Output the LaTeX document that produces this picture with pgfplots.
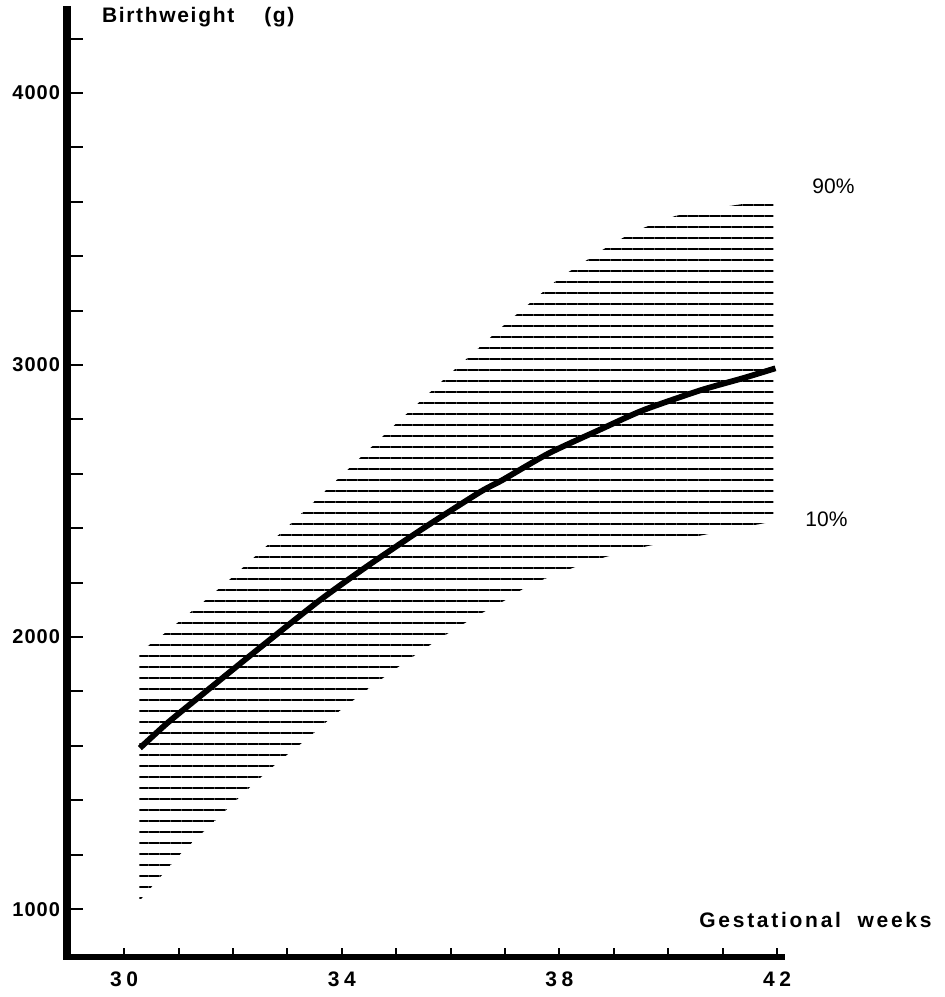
\documentclass[border=0pt]{standalone}
\usepackage{pgfplots}
\pgfplotsset{compat=1.18}
\usepackage{pgfplotstable}
\usepgfplotslibrary{fillbetween}
\usetikzlibrary{patterns.meta}
\usepackage{fontspec}
\setmainfont{Liberation Sans}
\newfontfamily\labfont[LetterSpace=13]{Liberation Sans}
\newfontfamily\bwfont[LetterSpace=8]{Liberation Sans}
\newfontfamily\ytfont[LetterSpace=5]{Liberation Sans}
\newfontfamily\xtfont[LetterSpace=22]{Liberation Sans}

\pgfplotstableread{
wk w
30.28 1945
30.66 2000
31.18 2085
31.43 2125
32.00 2222
33.00 2405
34.00 2595
35.00 2785
36.00 2970
37.00 3150
38.00 3320
38.79 3423
39.12 3463
39.54 3504
40.13 3548
40.80 3575
41.51 3596
41.93 3604
}\tabupper

\pgfplotstableread{
wk w
30.28 1030
30.55 1092
31.08 1213
31.51 1294
31.93 1375
32.39 1463
32.85 1544
33.38 1629
33.84 1710
34.38 1794
34.93 1875
35.50 1955
36.00 2020
36.50 2080
37.00 2135
37.26 2169
37.68 2210
38.24 2254
38.84 2294
39.63 2335
40.74 2379
41.93 2425
}\tablower

\pgfplotstableread{
wk w
30.29 1592
30.80 1685
31.38 1780
32.44 1952
33.60 2136
34.50 2265
35.50 2400
36.54 2533
36.95 2577
37.80 2675
38.75 2763
39.54 2834
40.59 2907
41.38 2952
41.97 2988
}\tabmedian

\begin{document}
\begin{tikzpicture}
\begin{axis}[
  scale only axis,
  width=357.5pt, height=473.5pt,
  xmin=28.95, xmax=42.09, ymin=824, ymax=4305,
  axis lines=left,
  axis line style={-, line cap=rect},
  x axis line style={line width=3pt},
  y axis line style={line width=3.5pt},
  xtick={30,34,38,42},
  xticklabels={30,34,38,42},
  minor xtick={31,32,33,35,36,37,39,40,41},
  ytick={1000,2000,3000,4000},
  yticklabels={1000,2000,3000,4000},
  minor ytick={1200,1400,1600,1800,2200,2400,2600,2800,3200,3400,3600,3800,4200},
  tick align=inside,
  major tick length=8pt, minor tick length=8pt,
  xtick style={line width=1pt, black, /pgfplots/major tick length=4.5pt, /pgfplots/minor tick length=4.5pt},
  ytick style={line width=1pt, black},
  yticklabel style={font=\fontsize{10}{12}\selectfont\ytfont\bfseries, xshift=0pt},
  xticklabel style={font=\fontsize{10.5}{12}\selectfont\xtfont\bfseries, yshift=-4pt},
]
\addplot[draw=none, name path=U] table[x=wk, y=w] {\tabupper};
\addplot[draw=none, name path=L] table[x=wk, y=w] {\tablower};
\addplot[draw=none, pattern={Lines[angle=0, distance=5.5pt, line width=1.3pt]}, pattern color=black] fill between[of=U and L];
\addplot[black, line width=2.9pt, line cap=butt, line join=round, smooth, tension=0.4] table[x=wk, y=w] {\tabmedian};
\end{axis}
\node[anchor=base west, inner sep=0] at (17.3pt,467pt) {\fontsize{10.5}{12}\selectfont\bwfont\bfseries Birthweight\hspace{15pt}(g)};
\node[anchor=base west, inner sep=0] at (316pt,14.5pt) {\fontsize{10.5}{12}\selectfont\labfont\bfseries Gestational\hspace{4pt} weeks};
\node[anchor=base west, inner sep=0] at (372.5pt,381.5pt) {\fontsize{10.5}{12}\selectfont 90\%};
\node[anchor=base west, inner sep=0] at (369pt,215pt) {\fontsize{10.5}{12}\selectfont 10\%};
\path (-33.5pt,-20pt) rectangle (439pt,478.5pt);
\end{tikzpicture}
\end{document}
